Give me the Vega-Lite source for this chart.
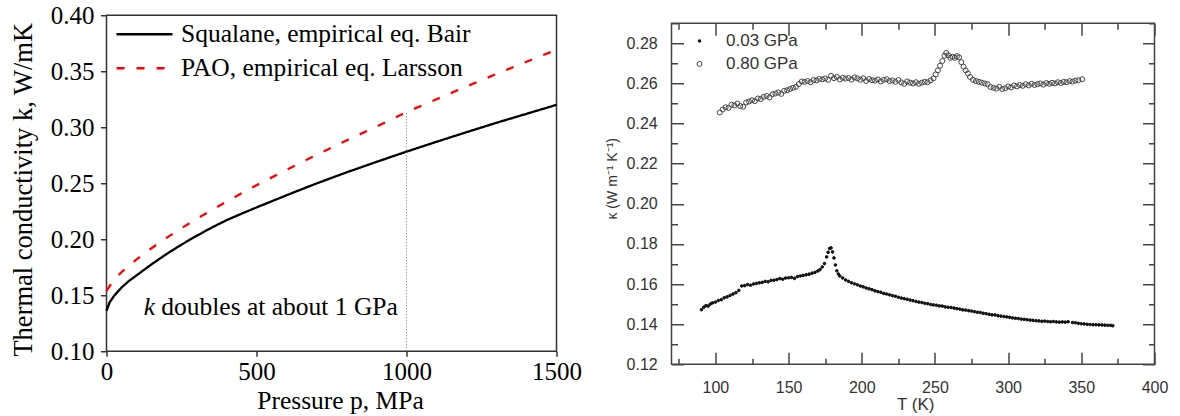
{
  "$schema": "https://vega.github.io/schema/vega-lite/v6.json",
  "padding": {"left": 9.5, "top": 2.25, "right": 5, "bottom": 0},
  "spacing": 22,
  "config": {
    "font": "Liberation Sans",
    "axis": {"labelFlush": false, "labelOverlap": false, "grid": false, "domain": false, "titleFontWeight": "normal"}
  },
  "datasets": {
    "curves": [
      {"series": "Squalane, empirical eq. Bair", "p": 0, "k": 0.136},
      {"series": "Squalane, empirical eq. Bair", "p": 10, "k": 0.1435},
      {"series": "Squalane, empirical eq. Bair", "p": 25, "k": 0.1494},
      {"series": "Squalane, empirical eq. Bair", "p": 50, "k": 0.1569},
      {"series": "Squalane, empirical eq. Bair", "p": 75, "k": 0.1628},
      {"series": "Squalane, empirical eq. Bair", "p": 100, "k": 0.1677},
      {"series": "Squalane, empirical eq. Bair", "p": 150, "k": 0.1776},
      {"series": "Squalane, empirical eq. Bair", "p": 200, "k": 0.1868},
      {"series": "Squalane, empirical eq. Bair", "p": 250, "k": 0.1952},
      {"series": "Squalane, empirical eq. Bair", "p": 300, "k": 0.2030},
      {"series": "Squalane, empirical eq. Bair", "p": 350, "k": 0.2103},
      {"series": "Squalane, empirical eq. Bair", "p": 400, "k": 0.2170},
      {"series": "Squalane, empirical eq. Bair", "p": 450, "k": 0.2228},
      {"series": "Squalane, empirical eq. Bair", "p": 500, "k": 0.2284},
      {"series": "Squalane, empirical eq. Bair", "p": 600, "k": 0.2393},
      {"series": "Squalane, empirical eq. Bair", "p": 700, "k": 0.2498},
      {"series": "Squalane, empirical eq. Bair", "p": 800, "k": 0.2597},
      {"series": "Squalane, empirical eq. Bair", "p": 900, "k": 0.2691},
      {"series": "Squalane, empirical eq. Bair", "p": 1000, "k": 0.2782},
      {"series": "Squalane, empirical eq. Bair", "p": 1100, "k": 0.2870},
      {"series": "Squalane, empirical eq. Bair", "p": 1200, "k": 0.2956},
      {"series": "Squalane, empirical eq. Bair", "p": 1300, "k": 0.3040},
      {"series": "Squalane, empirical eq. Bair", "p": 1400, "k": 0.3120},
      {"series": "Squalane, empirical eq. Bair", "p": 1500, "k": 0.3200},
      {"series": "PAO, empirical eq. Larsson", "p": 0, "k": 0.154},
      {"series": "PAO, empirical eq. Larsson", "p": 25, "k": 0.1639},
      {"series": "PAO, empirical eq. Larsson", "p": 50, "k": 0.1706},
      {"series": "PAO, empirical eq. Larsson", "p": 100, "k": 0.1820},
      {"series": "PAO, empirical eq. Larsson", "p": 150, "k": 0.1920},
      {"series": "PAO, empirical eq. Larsson", "p": 200, "k": 0.2012},
      {"series": "PAO, empirical eq. Larsson", "p": 250, "k": 0.2099},
      {"series": "PAO, empirical eq. Larsson", "p": 300, "k": 0.2181},
      {"series": "PAO, empirical eq. Larsson", "p": 350, "k": 0.2260},
      {"series": "PAO, empirical eq. Larsson", "p": 400, "k": 0.2336},
      {"series": "PAO, empirical eq. Larsson", "p": 450, "k": 0.2410},
      {"series": "PAO, empirical eq. Larsson", "p": 500, "k": 0.2482},
      {"series": "PAO, empirical eq. Larsson", "p": 600, "k": 0.2620},
      {"series": "PAO, empirical eq. Larsson", "p": 700, "k": 0.2753},
      {"series": "PAO, empirical eq. Larsson", "p": 800, "k": 0.2882},
      {"series": "PAO, empirical eq. Larsson", "p": 900, "k": 0.3006},
      {"series": "PAO, empirical eq. Larsson", "p": 1000, "k": 0.3135},
      {"series": "PAO, empirical eq. Larsson", "p": 1100, "k": 0.3250},
      {"series": "PAO, empirical eq. Larsson", "p": 1200, "k": 0.3364},
      {"series": "PAO, empirical eq. Larsson", "p": 1300, "k": 0.3476},
      {"series": "PAO, empirical eq. Larsson", "p": 1400, "k": 0.3585},
      {"series": "PAO, empirical eq. Larsson", "p": 1500, "k": 0.3692}
    ],
    "meas": [
      {"s": "0.03 GPa", "T": 90.5, "k": 0.1472}, {"s": "0.03 GPa", "T": 92, "k": 0.1484}, {"s": "0.03 GPa", "T": 93.5, "k": 0.1492}, {"s": "0.03 GPa", "T": 95, "k": 0.149}, {"s": "0.03 GPa", "T": 96.5, "k": 0.15}, {"s": "0.03 GPa", "T": 98, "k": 0.1506}, {"s": "0.03 GPa", "T": 100, "k": 0.151}, {"s": "0.03 GPa", "T": 102, "k": 0.1518}, {"s": "0.03 GPa", "T": 104, "k": 0.1522}, {"s": "0.03 GPa", "T": 106, "k": 0.1531}, {"s": "0.03 GPa", "T": 108, "k": 0.1536}, {"s": "0.03 GPa", "T": 110, "k": 0.1543}, {"s": "0.03 GPa", "T": 112, "k": 0.155}, {"s": "0.03 GPa", "T": 114, "k": 0.1557}, {"s": "0.03 GPa", "T": 116, "k": 0.1568}, {"s": "0.03 GPa", "T": 118, "k": 0.159}, {"s": "0.03 GPa", "T": 120, "k": 0.1592}, {"s": "0.03 GPa", "T": 122, "k": 0.1597}, {"s": "0.03 GPa", "T": 124, "k": 0.1594}, {"s": "0.03 GPa", "T": 126, "k": 0.16}, {"s": "0.03 GPa", "T": 128, "k": 0.1603}, {"s": "0.03 GPa", "T": 130, "k": 0.1606}, {"s": "0.03 GPa", "T": 132, "k": 0.1608}, {"s": "0.03 GPa", "T": 134, "k": 0.1613}, {"s": "0.03 GPa", "T": 136, "k": 0.1611}, {"s": "0.03 GPa", "T": 138, "k": 0.1618}, {"s": "0.03 GPa", "T": 140, "k": 0.1619}, {"s": "0.03 GPa", "T": 142, "k": 0.1622}, {"s": "0.03 GPa", "T": 144, "k": 0.1627}, {"s": "0.03 GPa", "T": 146, "k": 0.1624}, {"s": "0.03 GPa", "T": 148, "k": 0.163}, {"s": "0.03 GPa", "T": 150, "k": 0.1631}, {"s": "0.03 GPa", "T": 152, "k": 0.1633}, {"s": "0.03 GPa", "T": 154, "k": 0.1628}, {"s": "0.03 GPa", "T": 156, "k": 0.1637}, {"s": "0.03 GPa", "T": 158, "k": 0.164}, {"s": "0.03 GPa", "T": 160, "k": 0.1643}, {"s": "0.03 GPa", "T": 162, "k": 0.1646}, {"s": "0.03 GPa", "T": 164, "k": 0.1649}, {"s": "0.03 GPa", "T": 166, "k": 0.1654}, {"s": "0.03 GPa", "T": 168, "k": 0.1658}, {"s": "0.03 GPa", "T": 170, "k": 0.1665}, {"s": "0.03 GPa", "T": 171.5, "k": 0.1672}, {"s": "0.03 GPa", "T": 173, "k": 0.1685}, {"s": "0.03 GPa", "T": 174.5, "k": 0.1702}, {"s": "0.03 GPa", "T": 176, "k": 0.1735}, {"s": "0.03 GPa", "T": 177, "k": 0.1758}, {"s": "0.03 GPa", "T": 178, "k": 0.1777}, {"s": "0.03 GPa", "T": 179, "k": 0.178}, {"s": "0.03 GPa", "T": 180, "k": 0.176}, {"s": "0.03 GPa", "T": 181, "k": 0.173}, {"s": "0.03 GPa", "T": 182, "k": 0.1695}, {"s": "0.03 GPa", "T": 183, "k": 0.1666}, {"s": "0.03 GPa", "T": 184, "k": 0.165}, {"s": "0.03 GPa", "T": 185, "k": 0.164}, {"s": "0.03 GPa", "T": 187, "k": 0.163}, {"s": "0.03 GPa", "T": 189, "k": 0.162}, {"s": "0.03 GPa", "T": 191, "k": 0.1613}, {"s": "0.03 GPa", "T": 193, "k": 0.1606}, {"s": "0.03 GPa", "T": 195, "k": 0.1601}, {"s": "0.03 GPa", "T": 197, "k": 0.1596}, {"s": "0.03 GPa", "T": 199, "k": 0.159}, {"s": "0.03 GPa", "T": 201, "k": 0.1586}, {"s": "0.03 GPa", "T": 203, "k": 0.158}, {"s": "0.03 GPa", "T": 205, "k": 0.1576}, {"s": "0.03 GPa", "T": 207, "k": 0.1572}, {"s": "0.03 GPa", "T": 209, "k": 0.1566}, {"s": "0.03 GPa", "T": 211, "k": 0.1562}, {"s": "0.03 GPa", "T": 213, "k": 0.1559}, {"s": "0.03 GPa", "T": 215, "k": 0.1553}, {"s": "0.03 GPa", "T": 217, "k": 0.155}, {"s": "0.03 GPa", "T": 219, "k": 0.1546}, {"s": "0.03 GPa", "T": 221, "k": 0.1542}, {"s": "0.03 GPa", "T": 223, "k": 0.1539}, {"s": "0.03 GPa", "T": 225, "k": 0.1534}, {"s": "0.03 GPa", "T": 227, "k": 0.153}, {"s": "0.03 GPa", "T": 229, "k": 0.1527}, {"s": "0.03 GPa", "T": 231, "k": 0.1524}, {"s": "0.03 GPa", "T": 233, "k": 0.152}, {"s": "0.03 GPa", "T": 235, "k": 0.1517}, {"s": "0.03 GPa", "T": 237, "k": 0.1513}, {"s": "0.03 GPa", "T": 239, "k": 0.151}, {"s": "0.03 GPa", "T": 241, "k": 0.1508}, {"s": "0.03 GPa", "T": 243, "k": 0.1504}, {"s": "0.03 GPa", "T": 245, "k": 0.1502}, {"s": "0.03 GPa", "T": 247, "k": 0.1498}, {"s": "0.03 GPa", "T": 249, "k": 0.1496}, {"s": "0.03 GPa", "T": 251, "k": 0.1494}, {"s": "0.03 GPa", "T": 253, "k": 0.1491}, {"s": "0.03 GPa", "T": 255, "k": 0.149}, {"s": "0.03 GPa", "T": 257, "k": 0.1486}, {"s": "0.03 GPa", "T": 259, "k": 0.1484}, {"s": "0.03 GPa", "T": 261, "k": 0.1483}, {"s": "0.03 GPa", "T": 263, "k": 0.148}, {"s": "0.03 GPa", "T": 265, "k": 0.1477}, {"s": "0.03 GPa", "T": 267, "k": 0.1475}, {"s": "0.03 GPa", "T": 269, "k": 0.1471}, {"s": "0.03 GPa", "T": 271, "k": 0.147}, {"s": "0.03 GPa", "T": 273, "k": 0.1467}, {"s": "0.03 GPa", "T": 275, "k": 0.1465}, {"s": "0.03 GPa", "T": 277, "k": 0.1462}, {"s": "0.03 GPa", "T": 279, "k": 0.1459}, {"s": "0.03 GPa", "T": 281, "k": 0.1458}, {"s": "0.03 GPa", "T": 283, "k": 0.1454}, {"s": "0.03 GPa", "T": 285, "k": 0.1452}, {"s": "0.03 GPa", "T": 287, "k": 0.1449}, {"s": "0.03 GPa", "T": 289, "k": 0.1446}, {"s": "0.03 GPa", "T": 291, "k": 0.1446}, {"s": "0.03 GPa", "T": 293, "k": 0.1442}, {"s": "0.03 GPa", "T": 295, "k": 0.144}, {"s": "0.03 GPa", "T": 297, "k": 0.1438}, {"s": "0.03 GPa", "T": 299, "k": 0.1436}, {"s": "0.03 GPa", "T": 301, "k": 0.1434}, {"s": "0.03 GPa", "T": 303, "k": 0.1431}, {"s": "0.03 GPa", "T": 305, "k": 0.1429}, {"s": "0.03 GPa", "T": 307, "k": 0.1428}, {"s": "0.03 GPa", "T": 309, "k": 0.1425}, {"s": "0.03 GPa", "T": 311, "k": 0.1424}, {"s": "0.03 GPa", "T": 313, "k": 0.1422}, {"s": "0.03 GPa", "T": 315, "k": 0.142}, {"s": "0.03 GPa", "T": 317, "k": 0.1419}, {"s": "0.03 GPa", "T": 319, "k": 0.1417}, {"s": "0.03 GPa", "T": 321, "k": 0.1416}, {"s": "0.03 GPa", "T": 323, "k": 0.1414}, {"s": "0.03 GPa", "T": 325, "k": 0.1415}, {"s": "0.03 GPa", "T": 327, "k": 0.1413}, {"s": "0.03 GPa", "T": 329, "k": 0.1412}, {"s": "0.03 GPa", "T": 331, "k": 0.1413}, {"s": "0.03 GPa", "T": 333, "k": 0.1411}, {"s": "0.03 GPa", "T": 335, "k": 0.141}, {"s": "0.03 GPa", "T": 337, "k": 0.1411}, {"s": "0.03 GPa", "T": 339, "k": 0.141}, {"s": "0.03 GPa", "T": 341, "k": 0.1412}, {"s": "0.03 GPa", "T": 344, "k": 0.1408}, {"s": "0.03 GPa", "T": 346, "k": 0.1407}, {"s": "0.03 GPa", "T": 348, "k": 0.1404}, {"s": "0.03 GPa", "T": 350, "k": 0.1402}, {"s": "0.03 GPa", "T": 352, "k": 0.1401}, {"s": "0.03 GPa", "T": 354, "k": 0.1399}, {"s": "0.03 GPa", "T": 356, "k": 0.1398}, {"s": "0.03 GPa", "T": 358, "k": 0.1397}, {"s": "0.03 GPa", "T": 360, "k": 0.1397}, {"s": "0.03 GPa", "T": 362, "k": 0.1396}, {"s": "0.03 GPa", "T": 364, "k": 0.1396}, {"s": "0.03 GPa", "T": 366, "k": 0.1395}, {"s": "0.03 GPa", "T": 368, "k": 0.1394}, {"s": "0.03 GPa", "T": 370, "k": 0.1394}, {"s": "0.03 GPa", "T": 371.5, "k": 0.1392},
      {"s": "0.80 GPa", "T": 103, "k": 0.2455}, {"s": "0.80 GPa", "T": 105, "k": 0.247}, {"s": "0.80 GPa", "T": 107, "k": 0.2481}, {"s": "0.80 GPa", "T": 109, "k": 0.2478}, {"s": "0.80 GPa", "T": 111, "k": 0.2494}, {"s": "0.80 GPa", "T": 113, "k": 0.249}, {"s": "0.80 GPa", "T": 115, "k": 0.25}, {"s": "0.80 GPa", "T": 117, "k": 0.2487}, {"s": "0.80 GPa", "T": 119, "k": 0.2484}, {"s": "0.80 GPa", "T": 121, "k": 0.2505}, {"s": "0.80 GPa", "T": 123, "k": 0.251}, {"s": "0.80 GPa", "T": 125, "k": 0.2516}, {"s": "0.80 GPa", "T": 127, "k": 0.2512}, {"s": "0.80 GPa", "T": 129, "k": 0.2525}, {"s": "0.80 GPa", "T": 131, "k": 0.2522}, {"s": "0.80 GPa", "T": 133, "k": 0.2533}, {"s": "0.80 GPa", "T": 135, "k": 0.2538}, {"s": "0.80 GPa", "T": 137, "k": 0.253}, {"s": "0.80 GPa", "T": 139, "k": 0.2546}, {"s": "0.80 GPa", "T": 141, "k": 0.255}, {"s": "0.80 GPa", "T": 143, "k": 0.2555}, {"s": "0.80 GPa", "T": 145, "k": 0.2548}, {"s": "0.80 GPa", "T": 147, "k": 0.2563}, {"s": "0.80 GPa", "T": 149, "k": 0.2566}, {"s": "0.80 GPa", "T": 151, "k": 0.2572}, {"s": "0.80 GPa", "T": 153, "k": 0.2578}, {"s": "0.80 GPa", "T": 155, "k": 0.2583}, {"s": "0.80 GPa", "T": 157, "k": 0.2597}, {"s": "0.80 GPa", "T": 159, "k": 0.261}, {"s": "0.80 GPa", "T": 161, "k": 0.2608}, {"s": "0.80 GPa", "T": 163, "k": 0.2612}, {"s": "0.80 GPa", "T": 165, "k": 0.2606}, {"s": "0.80 GPa", "T": 167, "k": 0.2617}, {"s": "0.80 GPa", "T": 169, "k": 0.2615}, {"s": "0.80 GPa", "T": 171, "k": 0.2622}, {"s": "0.80 GPa", "T": 173, "k": 0.262}, {"s": "0.80 GPa", "T": 175, "k": 0.2625}, {"s": "0.80 GPa", "T": 177, "k": 0.2618}, {"s": "0.80 GPa", "T": 179, "k": 0.2638}, {"s": "0.80 GPa", "T": 181, "k": 0.2626}, {"s": "0.80 GPa", "T": 183, "k": 0.2632}, {"s": "0.80 GPa", "T": 185, "k": 0.262}, {"s": "0.80 GPa", "T": 187, "k": 0.2628}, {"s": "0.80 GPa", "T": 189, "k": 0.2624}, {"s": "0.80 GPa", "T": 191, "k": 0.2627}, {"s": "0.80 GPa", "T": 193, "k": 0.2619}, {"s": "0.80 GPa", "T": 195, "k": 0.263}, {"s": "0.80 GPa", "T": 197, "k": 0.2625}, {"s": "0.80 GPa", "T": 199, "k": 0.2618}, {"s": "0.80 GPa", "T": 201, "k": 0.2626}, {"s": "0.80 GPa", "T": 203, "k": 0.2612}, {"s": "0.80 GPa", "T": 205, "k": 0.2622}, {"s": "0.80 GPa", "T": 207, "k": 0.2616}, {"s": "0.80 GPa", "T": 209, "k": 0.2614}, {"s": "0.80 GPa", "T": 211, "k": 0.262}, {"s": "0.80 GPa", "T": 213, "k": 0.261}, {"s": "0.80 GPa", "T": 215, "k": 0.2618}, {"s": "0.80 GPa", "T": 217, "k": 0.2621}, {"s": "0.80 GPa", "T": 219, "k": 0.2612}, {"s": "0.80 GPa", "T": 221, "k": 0.2615}, {"s": "0.80 GPa", "T": 223, "k": 0.2608}, {"s": "0.80 GPa", "T": 225, "k": 0.2617}, {"s": "0.80 GPa", "T": 227, "k": 0.2605}, {"s": "0.80 GPa", "T": 229, "k": 0.2598}, {"s": "0.80 GPa", "T": 231, "k": 0.261}, {"s": "0.80 GPa", "T": 233, "k": 0.2604}, {"s": "0.80 GPa", "T": 235, "k": 0.26}, {"s": "0.80 GPa", "T": 237, "k": 0.2606}, {"s": "0.80 GPa", "T": 239, "k": 0.2598}, {"s": "0.80 GPa", "T": 241, "k": 0.2604}, {"s": "0.80 GPa", "T": 243, "k": 0.2608}, {"s": "0.80 GPa", "T": 245, "k": 0.2606}, {"s": "0.80 GPa", "T": 247, "k": 0.2615}, {"s": "0.80 GPa", "T": 249, "k": 0.2625}, {"s": "0.80 GPa", "T": 250.5, "k": 0.2645}, {"s": "0.80 GPa", "T": 252, "k": 0.2665}, {"s": "0.80 GPa", "T": 253.5, "k": 0.2688}, {"s": "0.80 GPa", "T": 255, "k": 0.2712}, {"s": "0.80 GPa", "T": 256.5, "k": 0.2738}, {"s": "0.80 GPa", "T": 257.7, "k": 0.2752}, {"s": "0.80 GPa", "T": 259, "k": 0.274}, {"s": "0.80 GPa", "T": 260.5, "k": 0.2728}, {"s": "0.80 GPa", "T": 262, "k": 0.2733}, {"s": "0.80 GPa", "T": 263.5, "k": 0.2728}, {"s": "0.80 GPa", "T": 265, "k": 0.2736}, {"s": "0.80 GPa", "T": 266.5, "k": 0.273}, {"s": "0.80 GPa", "T": 268, "k": 0.2706}, {"s": "0.80 GPa", "T": 269.5, "k": 0.2683}, {"s": "0.80 GPa", "T": 271, "k": 0.2665}, {"s": "0.80 GPa", "T": 272.5, "k": 0.265}, {"s": "0.80 GPa", "T": 274, "k": 0.2632}, {"s": "0.80 GPa", "T": 276, "k": 0.2618}, {"s": "0.80 GPa", "T": 278, "k": 0.2612}, {"s": "0.80 GPa", "T": 280, "k": 0.2608}, {"s": "0.80 GPa", "T": 282, "k": 0.2604}, {"s": "0.80 GPa", "T": 284, "k": 0.26}, {"s": "0.80 GPa", "T": 286, "k": 0.2596}, {"s": "0.80 GPa", "T": 288, "k": 0.2582}, {"s": "0.80 GPa", "T": 290, "k": 0.2578}, {"s": "0.80 GPa", "T": 292, "k": 0.2574}, {"s": "0.80 GPa", "T": 294, "k": 0.2583}, {"s": "0.80 GPa", "T": 296, "k": 0.2572}, {"s": "0.80 GPa", "T": 298, "k": 0.2576}, {"s": "0.80 GPa", "T": 300, "k": 0.2585}, {"s": "0.80 GPa", "T": 302, "k": 0.258}, {"s": "0.80 GPa", "T": 304, "k": 0.259}, {"s": "0.80 GPa", "T": 306, "k": 0.2585}, {"s": "0.80 GPa", "T": 308, "k": 0.2592}, {"s": "0.80 GPa", "T": 310, "k": 0.2588}, {"s": "0.80 GPa", "T": 312, "k": 0.2596}, {"s": "0.80 GPa", "T": 314, "k": 0.259}, {"s": "0.80 GPa", "T": 316, "k": 0.2598}, {"s": "0.80 GPa", "T": 318, "k": 0.2592}, {"s": "0.80 GPa", "T": 320, "k": 0.2596}, {"s": "0.80 GPa", "T": 322, "k": 0.26}, {"s": "0.80 GPa", "T": 324, "k": 0.2594}, {"s": "0.80 GPa", "T": 326, "k": 0.2602}, {"s": "0.80 GPa", "T": 328, "k": 0.2598}, {"s": "0.80 GPa", "T": 330, "k": 0.2603}, {"s": "0.80 GPa", "T": 332, "k": 0.26}, {"s": "0.80 GPa", "T": 334, "k": 0.2606}, {"s": "0.80 GPa", "T": 336, "k": 0.2602}, {"s": "0.80 GPa", "T": 338, "k": 0.2608}, {"s": "0.80 GPa", "T": 340, "k": 0.2606}, {"s": "0.80 GPa", "T": 342, "k": 0.2612}, {"s": "0.80 GPa", "T": 344, "k": 0.2609}, {"s": "0.80 GPa", "T": 346, "k": 0.2614}, {"s": "0.80 GPa", "T": 348, "k": 0.2616}, {"s": "0.80 GPa", "T": 350.6, "k": 0.2621}
    ]
  },
  "hconcat": [
    {
      "width": 450,
      "height": 336,
      "view": {"stroke": "#333", "strokeWidth": 1.5},
      "layer": [
        {
          "data": {"name": "curves"},
          "mark": {"type": "line", "strokeWidth": 2.3},
          "encoding": {
            "x": {
              "field": "p", "type": "quantitative",
              "scale": {"domain": [0, 1500], "nice": false, "zero": false},
              "axis": {
                "values": [0, 500, 1000, 1500], "format": "d",
                "tickSize": 5, "tickColor": "#333", "tickWidth": 1.5, "labelPadding": 3.3,
                "labelFont": "Liberation Serif", "labelFontSize": 25, "labelColor": "#000",
                "title": "Pressure p, MPa", "titleFont": "Liberation Serif", "titleFontSize": 25.5, "titleColor": "#000",
                "titleX": 233.5, "titleY": 57, "titleBaseline": "alphabetic", "titleAlign": "center"
              }
            },
            "y": {
              "field": "k", "type": "quantitative",
              "scale": {"domain": [0.1, 0.4], "nice": false, "zero": false},
              "axis": {
                "values": [0.1, 0.125, 0.15, 0.175, 0.2, 0.225, 0.25, 0.275, 0.3, 0.325, 0.35, 0.375, 0.4],
                "labelExpr": "round(datum.value*1000) % 50 == 0 ? format(datum.value, '.2f') : ''",
                "tickSize": {"condition": {"test": "round(datum.value*1000) % 50 == 0", "value": 6}, "value": 3},
                "tickColor": "#333", "tickWidth": 1.5, "labelPadding": 6.5,
                "labelFont": "Liberation Serif", "labelFontSize": 25, "labelColor": "#000",
                "title": "Thermal conductivity k, W/mK", "titleFont": "Liberation Serif", "titleFontSize": 26.5, "titleColor": "#000",
                "titleX": -83, "titleY": 174, "titleBaseline": "middle", "titleAlign": "center", "titleAngle": -90
              }
            },
            "color": {
              "field": "series", "type": "nominal",
              "scale": {"domain": ["Squalane, empirical eq. Bair", "PAO, empirical eq. Larsson"], "range": ["#000000", "#ff0000"]},
              "legend": {"title": null, "orient": "none", "legendX": 8.5, "legendY": 4, "symbolType": "stroke", "symbolSize": 3136, "symbolStrokeWidth": 2.5, "clipHeight": 30, "rowPadding": 4, "padding": 0, "labelFont": "Liberation Serif", "labelFontSize": 25.5, "labelColor": "#000", "labelOffset": 7, "labelLimit": 0}
            },
            "strokeDash": {
              "field": "series", "type": "nominal",
              "scale": {"domain": ["Squalane, empirical eq. Bair", "PAO, empirical eq. Larsson"], "range": [[1, 0], [8, 12]]},
              "legend": {"title": null, "orient": "none", "legendX": 8.5, "legendY": 4, "symbolType": "stroke", "symbolSize": 3136, "symbolStrokeWidth": 2.5, "clipHeight": 30, "rowPadding": 4, "padding": 0, "labelFont": "Liberation Serif", "labelFontSize": 25.5, "labelColor": "#000", "labelOffset": 7, "labelLimit": 0}
            }
          }
        },
        {
          "data": {"values": [{"p": 1000, "k0": 0.1, "k1": 0.3135}]},
          "mark": {"type": "rule", "color": "#777", "strokeWidth": 1, "strokeDash": [1, 2]},
          "encoding": {
            "x": {"field": "p", "type": "quantitative", "title": "Pressure p, MPa"},
            "y": {"field": "k0", "type": "quantitative", "title": "Thermal conductivity k, W/mK"},
            "y2": {"field": "k1"}
          }
        },
        {
          "data": {"values": [{"p": 124.3, "k": 0.1321, "t": "k"}]},
          "mark": {"type": "text", "font": "Liberation Serif", "fontSize": 25.5, "fontStyle": "italic", "align": "left", "baseline": "alphabetic", "color": "#000"},
          "encoding": {
            "x": {"field": "p", "type": "quantitative", "title": "Pressure p, MPa"},
            "y": {"field": "k", "type": "quantitative", "title": "Thermal conductivity k, W/mK"},
            "text": {"field": "t"}
          }
        },
        {
          "data": {"values": [{"p": 124.3, "k": 0.1321, "t": "doubles at about 1 GPa"}]},
          "mark": {"type": "text", "font": "Liberation Serif", "fontSize": 25.5, "align": "left", "baseline": "alphabetic", "color": "#000", "dx": 17.5},
          "encoding": {
            "x": {"field": "p", "type": "quantitative", "title": "Pressure p, MPa"},
            "y": {"field": "k", "type": "quantitative", "title": "Thermal conductivity k, W/mK"},
            "text": {"field": "t"}
          }
        }
      ]
    },
    {
      "spacing": -2,
      "vconcat": [
        {
          "width": 483,
          "height": 1,
          "view": {"stroke": null},
          "data": {"values": [{"a": 1}]},
          "mark": {"type": "rule", "opacity": 0},
          "encoding": {}
        },
        {
          "width": 483,
          "height": 341,
          "view": {"stroke": "#444", "strokeWidth": 1.5},
          "data": {"name": "meas"},
          "layer": [
            {
              "mark": {"type": "point", "filled": true, "opacity": 1, "shape": "circle", "strokeWidth": 1},
              "encoding": {
                "x": {
                  "field": "T", "type": "quantitative",
                  "scale": {"domain": [70, 400], "nice": false, "zero": false},
                  "axis": {
                    "orient": "bottom",
                    "values": [75, 100, 125, 150, 175, 200, 225, 250, 275, 300, 325, 350, 375, 400],
                    "labelExpr": "datum.value % 50 == 0 ? datum.label : ''",
                    "tickSize": {"condition": {"test": "datum.value % 50 == 0", "value": -12}, "value": -6},
                    "tickColor": "#444", "tickWidth": 1.5, "labelPadding": 27,
                    "labelFont": "Liberation Sans", "labelFontSize": 16, "labelColor": "#333",
                    "title": "T (K)", "titleFont": "Liberation Sans", "titleFontSize": 17, "titleColor": "#333",
                    "titleX": 243.7, "titleY": 45.7, "titleBaseline": "alphabetic", "titleAlign": "center"
                  }
                },
                "y": {
                  "field": "k", "type": "quantitative",
                  "scale": {"domain": [0.12, 0.29], "nice": false, "zero": false},
                  "axis": {
                    "orient": "left",
                    "values": [0.12, 0.13, 0.14, 0.15, 0.16, 0.17, 0.18, 0.19, 0.2, 0.21, 0.22, 0.23, 0.24, 0.25, 0.26, 0.27, 0.28, 0.29],
                    "labelExpr": "round(datum.value*100) % 2 == 0 ? format(datum.value, '.2f') : ''",
                    "tickSize": {"condition": {"test": "round(datum.value*100) % 2 == 0", "value": -12}, "value": -6},
                    "tickColor": "#444", "tickWidth": 1.5, "labelPadding": 26.3,
                    "labelFont": "Liberation Sans", "labelFontSize": 16, "labelColor": "#333",
                    "title": "κ (W m⁻¹ K⁻¹)", "titleFont": "Liberation Sans", "titleFontSize": 14, "titleColor": "#333",
                    "titleX": -59, "titleY": 155, "titleBaseline": "middle", "titleAlign": "center", "titleAngle": -90
                  }
                },
                "fill": {
                  "field": "s", "type": "nominal",
                  "scale": {"domain": ["0.03 GPa", "0.80 GPa"], "range": ["#111111", "transparent"]},
                  "legend": {"title": null, "orient": "none", "legendX": 584.5, "legendY": 17.2, "padding": 0, "rowPadding": 5, "labelFont": "Liberation Sans", "labelFontSize": 17, "labelColor": "#333", "labelOffset": 18, "symbolStrokeWidth": 1}
                },
                "stroke": {
                  "field": "s", "type": "nominal",
                  "scale": {"domain": ["0.03 GPa", "0.80 GPa"], "range": ["#111111", "#444444"]},
                  "legend": {"title": null, "orient": "none", "legendX": 584.5, "legendY": 17.2, "padding": 0, "rowPadding": 5, "labelFont": "Liberation Sans", "labelFontSize": 17, "labelColor": "#333", "labelOffset": 18, "symbolStrokeWidth": 1}
                },
                "size": {
                  "field": "s", "type": "ordinal",
                  "scale": {"domain": ["0.03 GPa", "0.80 GPa"], "range": [7, 25]},
                  "legend": {"title": null, "orient": "none", "legendX": 584.5, "legendY": 17.2, "padding": 0, "rowPadding": 5, "labelFont": "Liberation Sans", "labelFontSize": 17, "labelColor": "#333", "labelOffset": 18, "symbolStrokeWidth": 1}
                }
              }
            },
            {
              "mark": {"type": "point", "opacity": 0},
              "encoding": {
                "x": {
                  "field": "T", "type": "quantitative",
                  "axis": {
                    "orient": "top",
                    "values": [75, 100, 125, 150, 175, 200, 225, 250, 275, 300, 325, 350, 375, 400],
                    "labels": false,
                    "tickSize": {"condition": {"test": "datum.value % 50 == 0", "value": -12}, "value": -6},
                    "tickColor": "#444", "tickWidth": 1.5,
                    "title": null
                  }
                },
                "y": {
                  "field": "k", "type": "quantitative",
                  "axis": {
                    "orient": "right",
                    "values": [0.12, 0.13, 0.14, 0.15, 0.16, 0.17, 0.18, 0.19, 0.2, 0.21, 0.22, 0.23, 0.24, 0.25, 0.26, 0.27, 0.28, 0.29],
                    "labels": false,
                    "tickSize": {"condition": {"test": "round(datum.value*100) % 2 == 0", "value": -12}, "value": -6},
                    "tickColor": "#444", "tickWidth": 1.5,
                    "title": null
                  }
                }
              }
            }
          ],
          "resolve": {"axis": {"x": "independent", "y": "independent"}}
        }
      ]
    }
  ]
}
